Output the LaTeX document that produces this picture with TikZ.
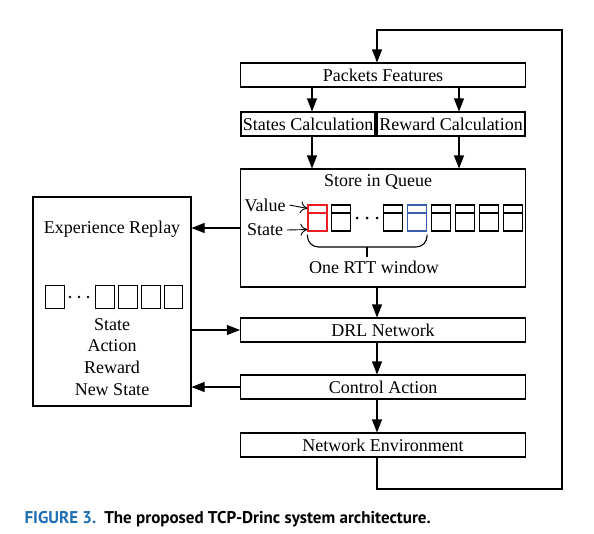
\documentclass[tikz,border=0pt]{standalone}
\usepackage{fontspec}
\setmainfont{Liberation Serif}
\newfontfamily\capfont{PT Sans}
\usetikzlibrary{arrows.meta}
\definecolor{capblue}{RGB}{30,110,180}
\definecolor{qred}{RGB}{235,30,35}
\definecolor{qblue}{RGB}{55,95,170}

\begin{document}
\begin{tikzpicture}[x=1pt,y=-1pt,line width=1.1pt,
		>={Triangle[length=13pt,width=10pt]},
		blk/.style={draw,rectangle,minimum width=285pt,minimum height=24pt,inner sep=0pt},
		qcell/.style={draw=#1,minimum width=19pt,minimum height=26pt,inner sep=0pt,
			path picture={\draw[#1] ([yshift=-8pt]path picture bounding box.north west) -- ([yshift=-8pt]path picture bounding box.north east);}},
		qcell/.default=black,
		rcell/.style={draw,minimum width=18.5pt,minimum height=23pt,inner sep=0pt},
		font=\fontsize{18}{20}\selectfont]
			\useasboundingbox (0,0) rectangle (594,533);
			
			% top of the chain
			\node	(pf) at (383,75) [blk] {Packets Features};
			\node	(sc) at (308,124) [blk,minimum width=134pt] {States Calculation};
			\node	(rc) at (451,124) [blk,minimum width=148pt] {Reward Calculation};
			
			% queue
			\node	(store) at (383,228) [blk,minimum height=118pt] {};
			\node	(sq) at (378,182) {Store in Queue};
			\node	(val) at (265,205) {Value};
			\node	(st) at (265,230) {State};
			\node	(q1) at (317.5,218) [qcell=qred] {};
			\foreach \x/\n in {341/2, 393/3, 441/5, 465/6, 489/7, 513/8}
				\node	(q\n) at (\x,218) [qcell] {};
			\node	(q4) at (417,218) [qcell=qblue] {};
			\foreach \x in {357,367,377}
				\fill (\x,218) circle (1.5pt);
			\coordinate (bmid) at (367,247);
			\node	(rtt) at (374,267) {One RTT window};
			
			% experience replay
			\node	(exp) at (112,301.5) [draw,minimum width=158pt,minimum height=209pt] {};
			\node	(er) at (112,229) {Experience Replay};
			\node	(r1) at (55,297) [rcell] {};
			\foreach \x/\n in {105/2, 128/3, 151/4, 173.5/5}
				\node	(r\n) at (\x,297) [rcell] {};
			\foreach \x in {70,79,88}
				\fill (\x,297) circle (1.3pt);
			\node	(t1) at (112,325) {State};
			\node	(t2) at (112,346) {Action};
			\node	(t3) at (112,367) {Reward};
			\node	(t4) at (112,390) {New State};
			
			% lower chain
			\node	(drl) at (383,330) [blk] {DRL Network};
			\node	(ca) at (383,387) [blk] {Control Action};
			\node	(ne) at (383,445) [blk] {Network Environment};
			
			\coordinate (lbr) at (562,489);
			\coordinate (ltr) at (562,30);
			
			\draw 
			([xshift=4pt]sc.north |- pf.south) edge[->] ([xshift=4pt]sc.north)
			([xshift=8pt]rc.north |- pf.south) edge[->] ([xshift=8pt]rc.north)
			([xshift=4pt]sc.south) edge[->] ([xshift=4pt]sc.south |- store.north)
			([xshift=8pt]rc.south) edge[->] ([xshift=8pt]rc.south |- store.north)
			([xshift=-6pt]store.south) edge[->] ([xshift=-6pt]drl.north)
			([xshift=-6pt]drl.south) edge[->] ([xshift=-6pt]ca.north)
			([xshift=-6pt]ca.south) edge[->] ([xshift=-6pt]ne.north)
			(store.west) edge[->] (store.west -| exp.east)
			(drl.west -| exp.east) edge[->] (drl.west)
			(ca.west) edge[->] (ca.west -| exp.east)
			;
			
			\draw[line width=0.9pt]
			(val.east) edge[-{To[length=7pt,width=12pt]}] ([yshift=-4pt]q1.north west)
			(st.east) edge[-{To[length=7pt,width=12pt]}] ([yshift=2pt]q1.south west)
			;
			\draw[rounded corners=11pt] ([yshift=-3pt]q1.south west) |- (bmid) -| ([yshift=-3pt]q4.south east);
			\draw (bmid) -- ++(0,10);
			
			\draw[->] ([xshift=-6pt]ne.south) |- (lbr) -- (ltr) -| ([xshift=-6pt]pf.north);
			
			\node	(cap) at (24,519) [anchor=west,inner sep=0pt,font=\capfont\bfseries\fontsize{17}{20}\selectfont] {\textcolor{capblue}{FIGURE 3.}\hspace{8pt}The proposed TCP-Drinc system architecture.};
		\end{tikzpicture}
\end{document}
